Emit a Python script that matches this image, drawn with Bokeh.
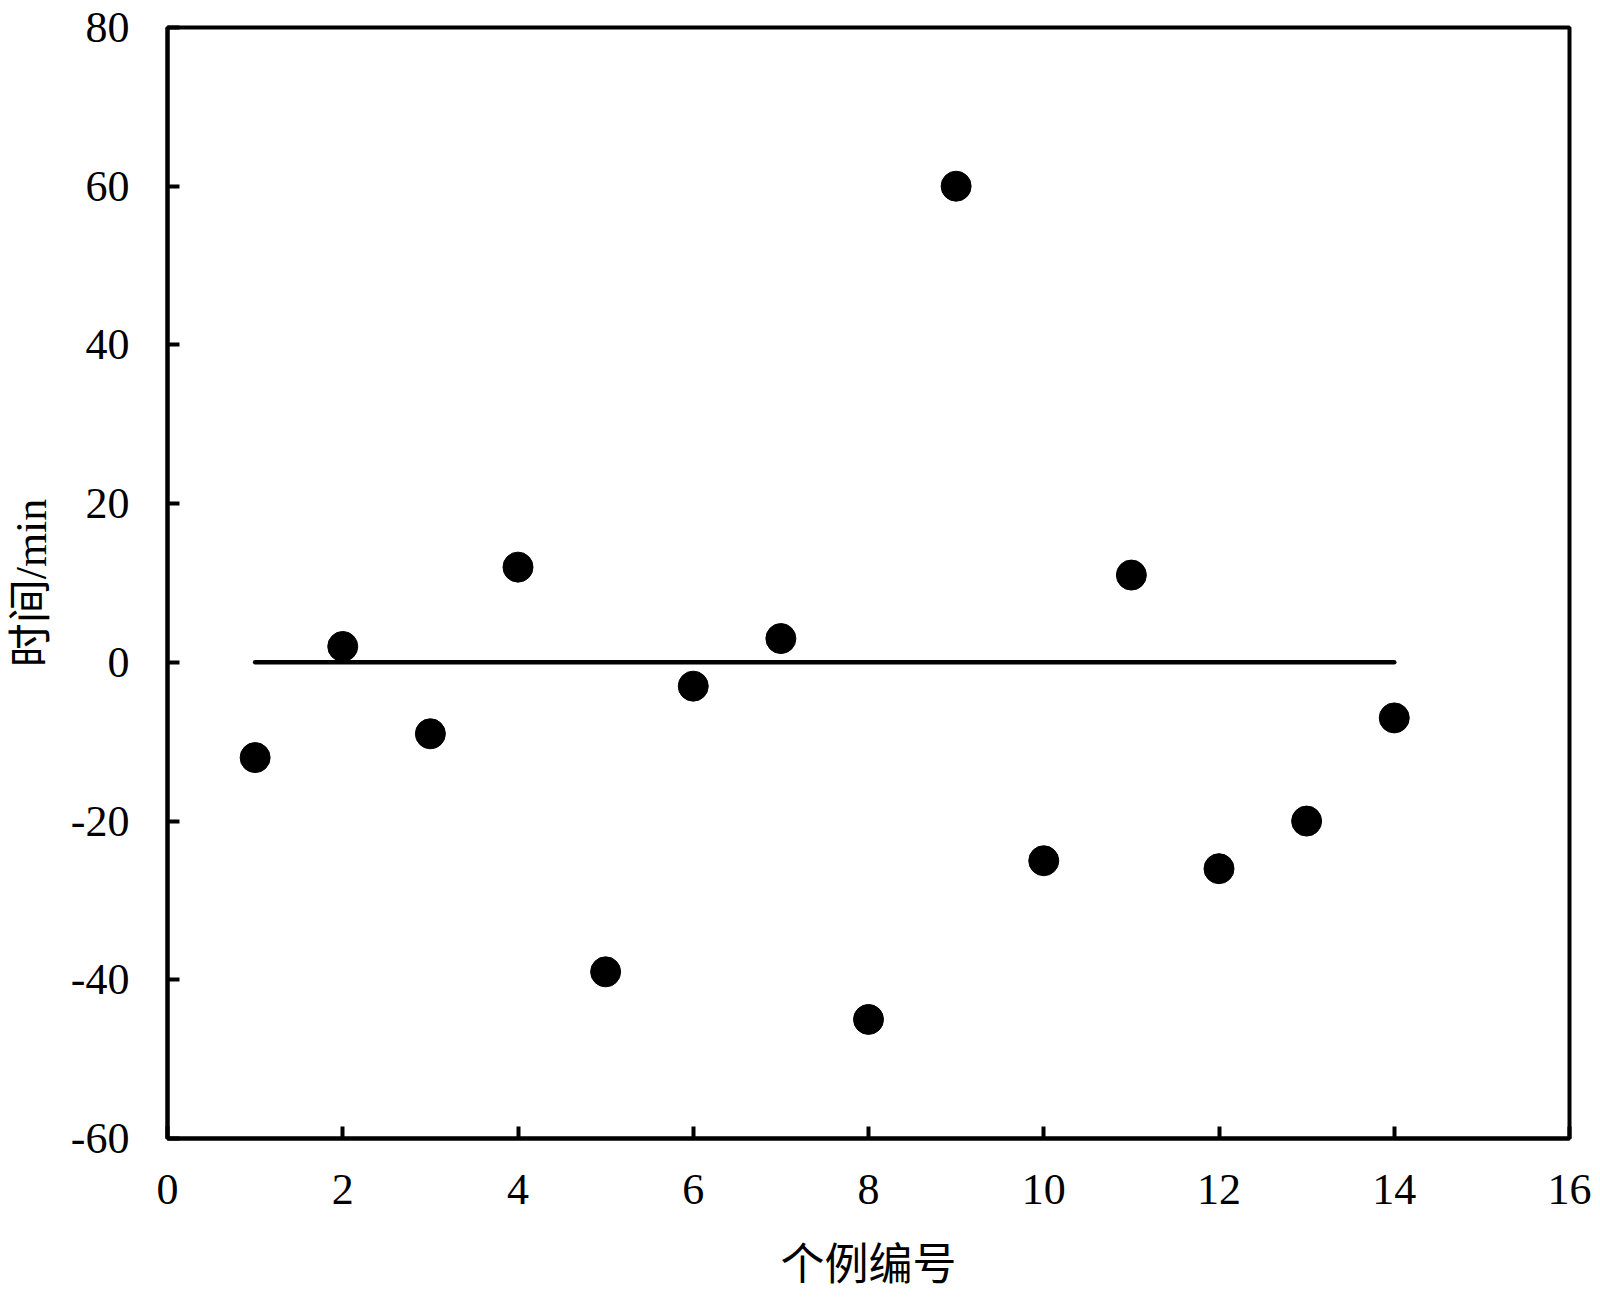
from bokeh.plotting import figure
from bokeh.models import FixedTicker, Range1d, ColumnDataSource
from bokeh.embed import file_html
from bokeh.resources import INLINE

# Data
case_no = [1, 2, 3, 4, 5, 6, 7, 8, 9, 10, 11, 12, 13, 14]
time_diff = [-12, 2, -9, 12, -39, -3, 3, -45, 60, -25, 11, -26, -20, -7]
ref_value = 0
x_ticks = [0, 2, 4, 6, 8, 10, 12, 14, 16]
y_ticks = [-60, -40, -20, 0, 20, 40, 60, 80]
x_label = "个例编号"
y_label = "时间/min"

p = figure(width=1592, height=1298, output_backend="svg", toolbar_location=None,
           x_range=Range1d(0, 16), y_range=Range1d(-60, 80),
           min_border_left=167, min_border_right=23, min_border_top=27, min_border_bottom=160)
p.grid.visible = False
p.background_fill_color = "white"
p.border_fill_color = "white"
p.outline_line_color = "black"
p.outline_line_width = 4

src = ColumnDataSource(dict(x=case_no, y=time_diff))
p.line(x=[case_no[0], case_no[-1]], y=[ref_value, ref_value], line_color="black",
       line_width=4.5, line_cap="round")
p.scatter(x="x", y="y", source=src, marker="circle", size=30,
          fill_color="black", line_color="black")

serif = "Liberation Serif"
cjk = "'Liberation Serif', 'Noto Sans CJK SC'"

for ax in (p.xaxis[0], p.yaxis[0]):
    ax.axis_line_width = 4
    ax.axis_line_color = "black"
    ax.major_tick_in = 12
    ax.major_tick_out = 0
    ax.major_tick_line_width = 4
    ax.minor_tick_line_color = None
    ax.major_label_text_font = serif
    ax.major_label_text_font_size = "44px"
    ax.major_label_text_color = "black"
    ax.axis_label_text_font = cjk
    ax.axis_label_text_font_size = "44px"
    ax.axis_label_text_font_style = "normal"
    ax.axis_label_text_color = "black"

p.xaxis[0].ticker = FixedTicker(ticks=x_ticks)
p.yaxis[0].ticker = FixedTicker(ticks=y_ticks)
p.xaxis[0].major_label_overrides = {t: str(t) for t in x_ticks}
p.yaxis[0].major_label_overrides = {t: str(t) for t in y_ticks}
p.xaxis[0].axis_label = x_label
p.yaxis[0].axis_label = y_label
p.xaxis[0].major_label_standoff = 36
p.yaxis[0].major_label_standoff = 38
p.xaxis[0].axis_label_standoff = 34
p.yaxis[0].axis_label_standoff = 12

open("out.html", "w").write(file_html(p, INLINE))
